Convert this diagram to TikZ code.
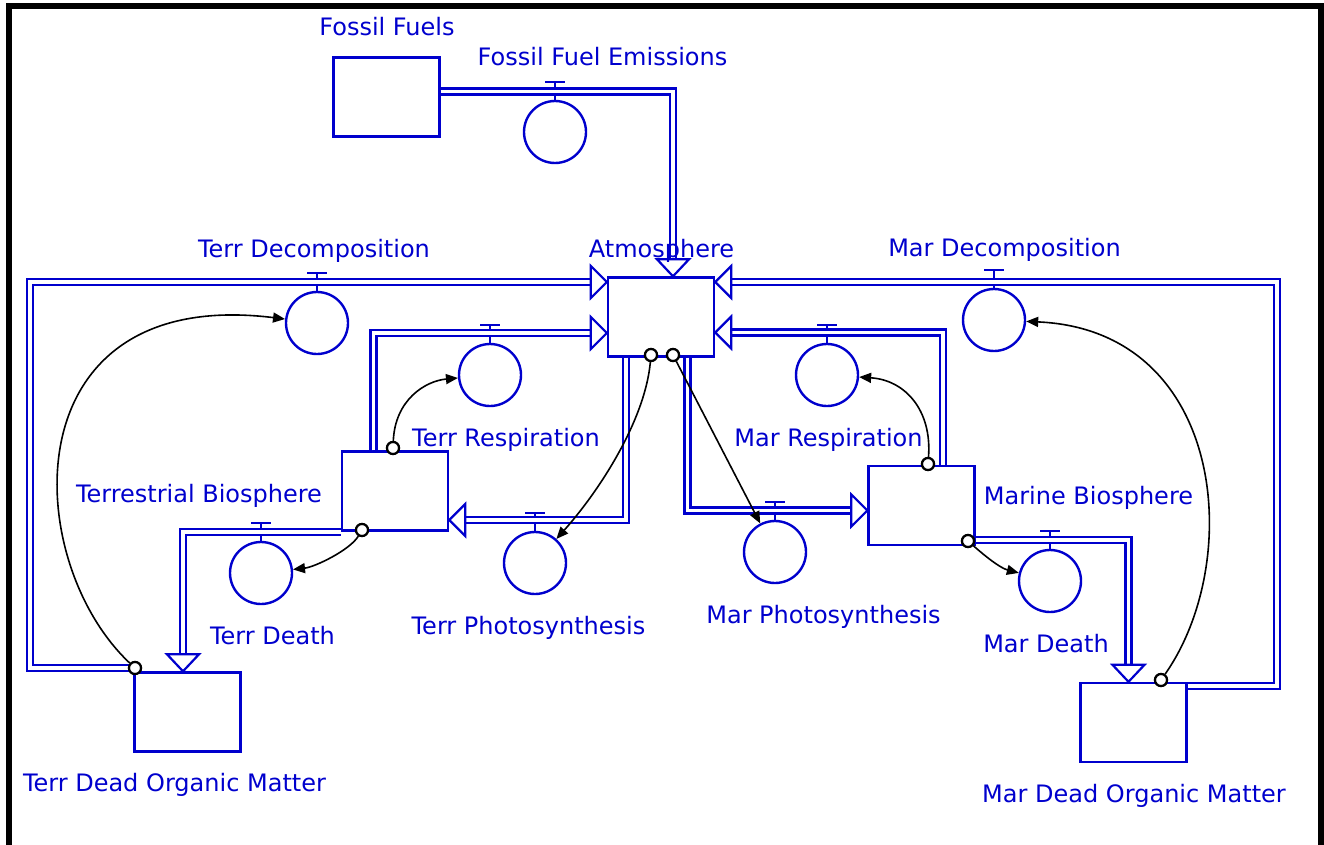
\documentclass[tikz,border=0pt]{standalone}
\usepackage{fontspec}
\setmainfont{DejaVu Sans}
\usetikzlibrary{arrows.meta}
\definecolor{sb}{RGB}{0,0,205}
\begin{document}
\begin{tikzpicture}[x=1pt,y=-1pt,
  stock/.style={draw=sb, line width=2.4pt, minimum width=106pt, minimum height=79pt, inner sep=0pt, fill=white},
  valve/.style={draw=sb, line width=2.4pt, circle, minimum size=62pt, inner sep=0pt},
  pipe/.style={draw=sb, line width=2.2pt, double=white, double distance=3.8pt, line join=miter},
  pipehead/.style={draw=sb, fill=white, line width=2.2pt, line join=miter},
  handle/.style={draw=sb, line width=2.4pt},
  lbl/.style={text=sb, font=\fontsize{24}{28}\selectfont, inner sep=0pt, anchor=base},
  src/.style={draw=black, fill=white, circle, line width=2.2pt, minimum size=12pt, inner sep=0pt},
  info/.style={draw=black, line width=1.6pt, -{Triangle[length=12pt,width=10pt]}},
  pics/headD/.style={code={\draw[pipehead] (0,0) -- (-16,-17) -- (16,-17) -- cycle;}},
  pics/headR/.style={code={\draw[pipehead] (0,0) -- (-16,-16) -- (-16,16) -- cycle;}},
  pics/headL/.style={code={\draw[pipehead] (0,0) -- (16,-16) -- (16,16) -- cycle;}}
]
\useasboundingbox (0,0) rectangle (1324,845);
% frame
\fill[black] (6,3) rectangle (12,845);
\fill[black] (6,3) rectangle (1324,9);
\fill[black] (1318,3) rectangle (1324,845);

% stocks
\node[stock] (ff)   at (386.5,97) {};
\node[stock] (atm)  at (661,317) {};
\node[stock] (tbio) at (395,491) {};
\node[stock] (mbio) at (921.5,505.5) {};
\node[stock] (tdom) at (187.5,712) {};
\node[stock] (mdom) at (1133.5,722.5) {};

% valves
\node[valve] (ffe)    at (555,132) {};
\node[valve] (tdec)   at (317,323) {};
\node[valve] (tres)   at (490,375) {};
\node[valve] (tph)    at (535,563) {};
\node[valve] (tdeath) at (261,573) {};
\node[valve] (mdec)   at (994,320) {};
\node[valve] (mres)   at (827,375) {};
\node[valve] (mph)    at (775,552) {};
\node[valve] (mdeath) at (1050,581) {};

% valve handles
\foreach \v in {ffe,tdec,tres,tph,tdeath,mdec,mres,mph,mdeath}
  \draw[handle] (\v.north) -- ++(0,-18) ++(-10,0) -- ++(20,0);

% pipes
\draw[pipe] (ff.east |- 0,91.5) -| (673,261);
\pic at (atm.north -| 673,0) {headD};

\draw[pipe] (tdom.west |- 0,668) -| (30,282) -- (592,282);
\pic at (atm.west |- 0,282) {headR};

\draw[pipe] (tbio.north -| 373.5,0) |- (592,333);
\pic at (atm.west |- 0,333) {headR};

\draw[pipe] (atm.south -| 626,0) |- (464,520);
\pic at (tbio.east |- 0,520) {headL};

\draw[pipe] (tbio.west |- 0,532) -| (183,655.5);
\pic at (tdom.north -| 183,0) {headD};

\draw[pipe] (atm.south -| 687.5,0) |- (852,510.5);
\pic at (mbio.west |- 0,510.5) {headR};

\draw[pipe] (mbio.north -| 943,0) |- (730,332.5);
\pic at (atm.east |- 0,332.5) {headL};

\draw[pipe] (mdom.east |- 0,686) -| (1277,282) -- (730,282);
\pic at (atm.east |- 0,282) {headL};

\draw[pipe] (mbio.east |- 0,540) -| (1128.5,666.5);
\pic at (mdom.north -| 1128.5,0) {headD};

% labels
\node[lbl] at (387,36) {Fossil Fuels};
\node[lbl] at (602.5,66) {Fossil Fuel Emissions};
\node[lbl] at (314,257) {Terr Decomposition};
\node[lbl] at (661.5,257) {Atmosphere};
\node[lbl] at (1004.5,256) {Mar Decomposition};
\node[lbl] at (506,446) {Terr Respiration};
\node[lbl] at (828.5,446) {Mar Respiration};
\node[lbl] at (199,502) {Terrestrial Biosphere};
\node[lbl] at (1088.5,504) {Marine Biosphere};
\node[lbl] at (272.5,644) {Terr Death};
\node[lbl] at (528.5,634) {Terr Photosynthesis};
\node[lbl] at (823.5,623) {Mar Photosynthesis};
\node[lbl] at (1046,652) {Mar Death};
\node[lbl] at (174.5,791) {Terr Dead Organic Matter};
\node[lbl] at (1134,802) {Mar Dead Organic Matter};

% connector sources
\node[src] (oa1) at (651,355) {};
\node[src] (oa2) at (673,355) {};
\node[src] (otb1) at (393,448) {};
\node[src] (otb2) at (362,530) {};
\node[src] (otd) at (135,668) {};
\node[src] (omb1) at (928,464) {};
\node[src] (omb2) at (968,541) {};
\node[src] (omd) at (1161,680) {};

% connectors
\draw[info] (oa1) .. controls (645,420) and (600,490) .. (tph);
\draw[info] (oa2) -- (mph);
\draw[info] (otb1) .. controls (395,400) and (425,381) .. (tres);
\draw[info] (otb2) .. controls (350,550) and (315,567) .. (tdeath);
\draw[info] (otd) .. controls (20,560) and (10,285) .. (tdec);
\draw[info] (omb1) .. controls (932,410) and (905,380) .. (mres);
\draw[info] (omb2) .. controls (985,556) and (1000,568) .. (mdeath);
\draw[info] (omd) .. controls (1245,560) and (1225,330) .. (mdec);

% redraw sources on top
\foreach \s in {oa1,oa2,otb1,otb2,otd,omb1,omb2,omd}
  \node[src] at (\s) {};
\end{tikzpicture}
\end{document}
